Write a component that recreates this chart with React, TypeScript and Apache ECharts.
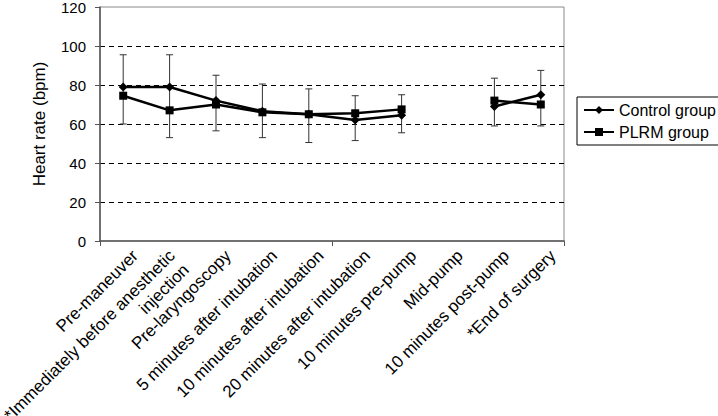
import React, { useEffect, useRef } from 'react';
import * as echarts from 'echarts';

const categories = [
  'Pre-maneuver',
  '*Immediately before anesthetic\ninjection',
  'Pre-laryngoscopy',
  '5 minutes after intubation',
  '10 minutes after intubation',
  '20 minutes after intubation',
  '10 minutes pre-pump',
  'Mid-pump',
  '10 minutes post-pump',
  '*End of surgery',
];

const controlGroup = [79, 79, 72, 66.5, 65, 62, 64.5, null, 69, 75];
const plrmGroup = [74.5, 67, 70, 66, 65, 65.5, 67.5, null, 72, 70];

// error bar ends (lower, upper) per time point
const errLow = [60, 53, 56.5, 53, 50.5, 51.5, 55.5, null, 59, 59];
const errHigh = [95.5, 95.5, 85, 80.5, 78, 74.5, 75, null, 83.5, 87.5];

const yTicks = [0, 20, 40, 60, 80, 100, 120];

const FONT = 'Liberation Sans, Arial, sans-serif';

export default function App() {
  const chartRef = useRef<HTMLDivElement>(null);

  useEffect(() => {
    if (!chartRef.current) return;
    document.body.style.margin = '0';
    const chart = echarts.init(chartRef.current, null, { renderer: 'svg' });

    const errData = categories
      .map((_, i) => [i, errLow[i], errHigh[i]])
      .filter(d => d[1] !== null);

    const option: any = {
      animation: false,
      backgroundColor: '#fff',
      textStyle: { fontFamily: FONT },
      grid: {
        left: 100,
        top: 7,
        right: 154,
        bottom: 175,
        containLabel: false,
        outerBoundsMode: 'none',
        show: true,
        borderColor: '#8a8a8a',
        borderWidth: 1,
      },
      legend: {
        orient: 'vertical',
        left: 577,
        top: 97,
        data: ['Control group', 'PLRM group'],
        borderColor: '#000',
        borderWidth: 1,
        padding: [5, 3, 5, 6],
        itemGap: 6,
        itemWidth: 30,
        itemHeight: 10,
        textStyle: { fontSize: 16, color: '#000' },
        selectedMode: false,
      },
      xAxis: {
        type: 'category',
        data: categories,
        boundaryGap: true,
        axisLine: { lineStyle: { color: '#555', width: 1.5 } },
        axisTick: { show: true, length: 5, lineStyle: { color: '#555' } },
        // labels drawn by the 'labels' custom series to match the Excel placement
        axisLabel: { show: false },
        splitLine: { show: false },
      },
      yAxis: {
        type: 'value',
        min: yTicks[0],
        max: yTicks[yTicks.length - 1],
        interval: 20,
        name: 'Heart rate (bpm)',
        nameLocation: 'middle',
        nameGap: 52,
        nameRotate: 90,
        nameTextStyle: { fontSize: 17, color: '#000' },
        axisLine: { show: true, lineStyle: { color: '#555', width: 1.5 } },
        axisTick: { show: true, length: 5, lineStyle: { color: '#555' } },
        axisLabel: { fontSize: 15, lineHeight: 12, color: '#000', margin: 14 },
        splitLine: {
          show: true,
          lineStyle: {
            color: ['rgba(0,0,0,0)', '#000', '#000', '#000', '#000', '#000', 'rgba(0,0,0,0)'],
            type: [5, 4],
            width: 1,
          },
        },
      },
      series: [
        {
          name: 'labels',
          type: 'custom',
          silent: true,
          clip: false,
          data: categories.map((_, i) => [i, 0]),
          renderItem: (params: any, api: any) => {
            const pt = api.coord([api.value(0), 0]);
            const text = categories[params.dataIndex];
            const multi = text.indexOf('\n') >= 0;
            return {
              type: 'text',
              x: pt[0] + (multi ? 9.5 : 12),
              y: pt[1] + (multi ? 19 : 12),
              rotation: Math.PI / 4,
              style: {
                text,
                align: 'right',
                verticalAlign: 'middle',
                fontSize: 17,
                fontFamily: FONT,
                lineHeight: 20,
                fill: '#000',
              },
            };
          },
        },
        {
          name: 'error',
          type: 'custom',
          z: 1,
          silent: true,
          data: errData,
          renderItem: (params: any, api: any) => {
            const x = api.value(0);
            const lo = api.coord([x, api.value(1)]);
            const hi = api.coord([x, api.value(2)]);
            const half = 3.5;
            const style = { stroke: '#333', lineWidth: 1 };
            return {
              type: 'group',
              children: [
                { type: 'line', shape: { x1: hi[0], y1: hi[1], x2: lo[0], y2: lo[1] }, style },
                { type: 'line', shape: { x1: hi[0] - half, y1: hi[1], x2: hi[0] + half, y2: hi[1] }, style },
                { type: 'line', shape: { x1: lo[0] - half, y1: lo[1], x2: lo[0] + half, y2: lo[1] }, style },
              ],
            };
          },
        },
        {
          name: 'Control group',
          type: 'line',
          z: 3,
          data: controlGroup,
          connectNulls: false,
          symbol: 'diamond',
          symbolSize: 9,
          itemStyle: { color: '#000' },
          lineStyle: { color: '#000', width: 2.5 },
        },
        {
          name: 'PLRM group',
          type: 'line',
          z: 3,
          data: plrmGroup,
          connectNulls: false,
          symbol: 'rect',
          symbolSize: 8,
          itemStyle: { color: '#000' },
          lineStyle: { color: '#000', width: 2.5 },
        },
      ],
    };

    chart.setOption(option);
    return () => {
      chart.dispose();
    };
  }, []);

  return <div ref={chartRef} style={{ width: 718, height: 416 }} />;
}
